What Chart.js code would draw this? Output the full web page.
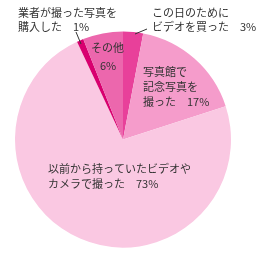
<!DOCTYPE html>
<html>
<head>
<meta charset="utf-8">
<script src="https://cdn.jsdelivr.net/npm/chart.js@4/dist/chart.umd.min.js"></script>
<style>
  html, body { margin: 0; padding: 0; background: #fff; }
  #wrap { width: 260px; height: 259px; }
</style>
</head>
<body>
<div id="wrap"><canvas id="pieChart" width="260" height="259"></canvas></div>
<script>
// slices, clockwise from 12 o'clock
const categories = ['この日のためにビデオを買った', '写真館で記念写真を撮った', '以前から持っていたビデオやカメラで撮った', '業者が撮った写真を購入した', 'その他'];
const shares = [3, 17, 73, 1, 6];
const sliceColors = ['#e8409a', '#f59ccb', '#fac8e2', '#d8006f', '#ec67ad'];

// label text, one entry per line
const labelLines = [
    { text: '業者が撮った写真を', x: 18, y: 13 },
    { text: '購入した　1%', x: 18, y: 27 },
    { text: 'その他', x: 91, y: 48 },
    { text: '6%', x: 100, y: 66 },
    { text: 'この日のために', x: 152, y: 13 },
    { text: 'ビデオを買った　3%', x: 152, y: 27 },
    { text: '写真館で', x: 143, y: 72 },
    { text: '記念写真を', x: 143, y: 87 },
    { text: '撮った　17%', x: 143, y: 102 },
    { text: '以前から持っていたビデオや', x: 48, y: 169 },
    { text: 'カメラで撮った　73%', x: 48, y: 184 }
];
const leaders = [
    [76, 32, 81, 44],
    [135, 34, 147, 29]
];

const labelPlugin = {
    id: 'sliceLabels',
    afterDraw(chart) {
        const ctx = chart.ctx;
        ctx.save();
        ctx.strokeStyle = '#333';
        ctx.lineWidth = 1;
        leaders.forEach(function(l) {
            ctx.beginPath();
            ctx.moveTo(l[0], l[1]);
            ctx.lineTo(l[2], l[3]);
            ctx.stroke();
        });
        ctx.fillStyle = '#333';
        ctx.font = '11px "Noto Sans CJK JP"';
        ctx.textBaseline = 'middle';
        labelLines.forEach(function(t) {
            ctx.fillText(t.text, t.x, t.y);
        });
        ctx.restore();
    }
};

const ctx = document.getElementById('pieChart').getContext('2d');
new Chart(ctx, {
    type: 'pie',
    data: {
        labels: categories,
        datasets: [{ data: shares, backgroundColor: sliceColors, borderWidth: 0 }]
    },
    options: {
        responsive: false,
        animation: false,
        layout: { padding: { left: 15, right: 29, top: 31, bottom: 11 } },
        plugins: { legend: { display: false }, tooltip: { enabled: false } }
    },
    plugins: [labelPlugin]
});
</script>
</body>
</html>
